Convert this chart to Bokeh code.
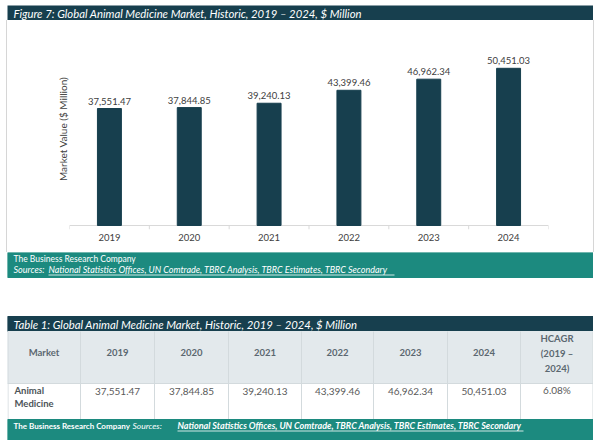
from bokeh.plotting import figure
from bokeh.models import (Range1d, LinearAxis, FixedTicker, ColumnDataSource)
from bokeh.embed import file_html
from bokeh.resources import INLINE
from bokeh.core.properties import value

# ---------------- data ----------------
years = ["2019", "2020", "2021", "2022", "2023", "2024"]
values = [37551.47, 37844.85, 39240.13, 43399.46, 46962.34, 50451.03]
hcagr = "6.08%"
market_name = ["Animal", "Medicine"]
fig_title = "Figure 7: Global Animal Medicine Market, Historic, 2019 \u2013 2024, $ Million"
tab_title = "Table 1: Global Animal Medicine Market, Historic, 2019 \u2013 2024, $ Million"
y_label = "Market Value ($ Million)"
company = "The Business Research Company"
sources_lead = "Sources:"
sources_list = "National Statistics Offices, UN Comtrade, TBRC Analysis, TBRC Estimates, TBRC Secondary"
header_labels = ["Market"] + years
hcagr_header = ["HCAGR", "(2019 \u2013", "2024)"]

value_labels = [f"{v:,.2f}" for v in values]
xpos = [i + 0.5 for i in range(len(years))]
edge_pos = list(range(len(years) + 1))

DARK = "#173f4e"
TEAL = "#1c8a7f"
FONT = "Lato"
W = 586
LEFT = 7

def blank(p):
    p.xgrid.visible = False
    p.ygrid.visible = False
    p.outline_line_color = None
    p.min_border = 0
    p.min_border_left = 0
    p.min_border_right = 0
    p.min_border_top = 0
    p.min_border_bottom = 0

# ---------------- top title bar ----------------
top = figure(width=W, height=15, x_range=Range1d(0, W), y_range=Range1d(0, 15),
             output_backend="svg", toolbar_location=None,
             x_axis_location=None, y_axis_location=None,
             background_fill_color=DARK, border_fill_color=DARK,
             styles={"margin-left": f"{LEFT}px", "margin-top": "5px"})
blank(top)
top.text(x=[6], y=[7.5], text=[fig_title], text_font=value(FONT),
         text_font_style="italic", text_font_size="11.3px", text_color="white",
         text_baseline="middle", text_align="left")

# ---------------- bar chart ----------------
Y0 = -1284  # small strip below the baseline for the category-boundary ticks
ch = figure(width=W, height=232, x_range=Range1d(0, len(years)),
            y_range=Range1d(Y0, 63228), output_backend="svg", toolbar_location=None,
            x_axis_location=None, background_fill_color="white",
            styles={"margin-left": f"{LEFT}px",
                    "box-shadow": "-1px 0 0 #d6d6d6, 1px 0 0 #d6d6d6"})
ch.xgrid.visible = False
ch.ygrid.visible = False
ch.outline_line_color = None
ch.min_border_left = 62
ch.min_border_right = 45
ch.min_border_top = 8
ch.min_border_bottom = 23

ch.yaxis.ticker = FixedTicker(ticks=[])
ch.yaxis.axis_line_color = None
ch.yaxis.major_tick_line_color = None
ch.yaxis.minor_tick_line_color = None
ch.yaxis.major_label_standoff = 0
ch.yaxis.axis_label = y_label
ch.yaxis.axis_label_text_font = FONT
ch.yaxis.axis_label_text_font_size = "10px"
ch.yaxis.axis_label_text_font_style = "normal"
ch.yaxis.axis_label_text_color = "#404040"
ch.yaxis.axis_label_standoff = 1

cat_axis = LinearAxis(ticker=FixedTicker(ticks=xpos), axis_line_color=None,
                      major_tick_line_color=None, minor_tick_line_color=None,
                      major_tick_out=0, major_tick_in=0,
                      major_label_overrides={x: y for x, y in zip(xpos, years)},
                      major_label_text_font=FONT, major_label_text_font_size="9.5px",
                      major_label_text_color="#404040", major_label_standoff=4)
ch.add_layout(cat_axis, "below")

# baseline and boundary ticks
ch.segment(x0=[0], x1=[len(years)], y0=[0], y1=[0], line_color="#d9d9d9", line_width=1)
ch.segment(x0=edge_pos, x1=edge_pos, y0=[0] * len(edge_pos), y1=[Y0] * len(edge_pos),
           line_color="#d9d9d9", line_width=1)

src = ColumnDataSource(dict(x=xpos, val=values, lab=value_labels))
ch.vbar(x="x", top="val", bottom=0, width=0.3, source=src, color=DARK)
ch.text(x="x", y="val", text="lab", source=src, text_align="center",
        text_baseline="bottom", y_offset=-4, text_font=value(FONT),
        text_font_size="9.5px", text_color="#404040")

# ---------------- bottom: footer + table ----------------
bot = figure(width=W, height=188, x_range=Range1d(7, 593), y_range=Range1d(440, 252),
             output_backend="svg", toolbar_location=None,
             x_axis_location=None, y_axis_location=None,
             background_fill_color="white", border_fill_color="white",
             styles={"margin-left": f"{LEFT}px"})
blank(bot)

# chart footer
bot.quad(left=[7], right=[593], top=[252], bottom=[277], color=TEAL)
bot.text(x=[13], y=[258], text=[company], text_font=value(FONT), text_font_size="8.5px",
         text_color="white", text_baseline="middle")
bot.text(x=[13], y=[269], text=[sources_lead], text_font=value(FONT), text_font_size="9px",
         text_font_style="italic", text_color="white", text_baseline="middle")
bot.text(x=[48], y=[269], text=[sources_list], text_font=value(FONT), text_font_size="9px",
         text_font_style="italic", text_color="white", text_baseline="middle")
bot.segment(x0=[48], x1=[394], y0=[274.5], y1=[274.5], line_color="white", line_width=0.8)

# table
edges = [7, 80, 154, 228, 301, 373, 447, 520, 593]
centers = [(a + b) / 2 for a, b in zip(edges[:-1], edges[1:])]
bot.quad(left=[7], right=[593], top=[316], bottom=[331], color=DARK)
bot.text(x=[13], y=[323.5], text=[tab_title], text_font=value(FONT), text_font_size="11.3px",
         text_font_style="italic", text_color="white", text_baseline="middle")
bot.quad(left=[7], right=[593], top=[331], bottom=[383], color="#e3e9ec")
bot.quad(left=[7], right=[593], top=[383], bottom=[419], fill_color="white", line_color=None)
bot.segment(x0=edges[1:-1], x1=edges[1:-1], y0=[331] * 7, y1=[419] * 7,
            line_color="#d3dadd", line_width=1)
bot.segment(x0=[7], x1=[593], y0=[383], y1=[383], line_color="#d3dadd", line_width=1)
bot.segment(x0=[7.5, 592.5], x1=[7.5, 592.5], y0=[331, 331], y1=[419, 419],
            line_color="#d3dadd", line_width=1)

hsrc = ColumnDataSource(dict(x=centers[:7], y=[352] * 7, t=header_labels))
bot.text(x="x", y="y", text="t", source=hsrc, text_font=value(FONT), text_font_size="9.5px",
         text_font_style="bold", text_color="#5b6770", text_align="center", text_baseline="middle")
hcsrc = ColumnDataSource(dict(x=[centers[7]] * 3, y=[338, 353, 368], t=hcagr_header))
bot.text(x="x", y="y", text="t", source=hcsrc, text_font=value(FONT), text_font_size="9.5px",
         text_font_style="bold", text_color="#5b6770", text_align="center", text_baseline="middle")

bot.text(x=[14, 14], y=[390, 403], text=market_name, text_font=value(FONT), text_font_size="9.5px",
         text_font_style="bold", text_color="#4d5358", text_align="left", text_baseline="middle")
vsrc = ColumnDataSource(dict(x=centers[1:7], y=[391] * 6, t=value_labels))
bot.text(x="x", y="y", text="t", source=vsrc, text_font=value(FONT), text_font_size="10px",
         text_color="#5a5a5a", text_align="center", text_baseline="middle")
bot.text(x=[centers[7]], y=[389], text=[hcagr], text_font=value(FONT), text_font_size="10px",
         text_color="#5a5a5a", text_align="center", text_baseline="middle")

bot.quad(left=[7], right=[593], top=[419], bottom=[440], color=TEAL)
bot.text(x=[13], y=[425], text=[company], text_font=value(FONT), text_font_size="8px",
         text_font_style="bold", text_color="white", text_baseline="middle")
bot.text(x=[132], y=[425], text=[sources_lead], text_font=value(FONT), text_font_size="8.5px",
         text_font_style="italic", text_color="white", text_baseline="middle")
bot.text(x=[177], y=[425], text=[sources_list], text_font=value(FONT), text_font_size="9px",
         text_font_style="bold italic", text_color="white", text_baseline="middle")
bot.segment(x0=[177], x1=[523], y0=[430.5], y1=[430.5], line_color="white", line_width=0.8)

open("out.html", "w").write(file_html([top, ch, bot], INLINE))
